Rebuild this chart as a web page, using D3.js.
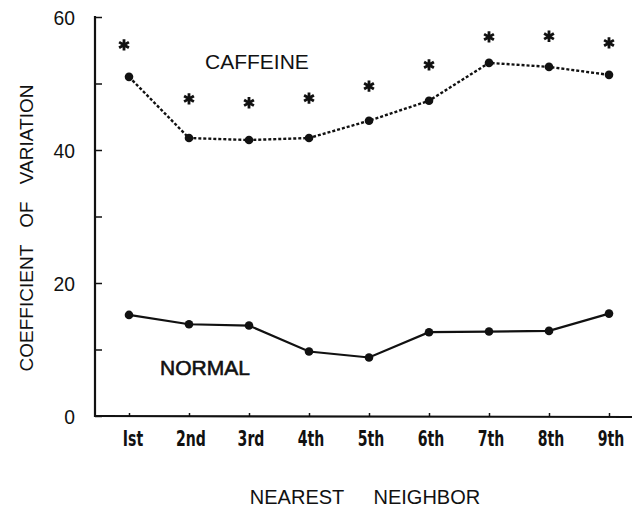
<!DOCTYPE html>
<html>
<head>
<meta charset="utf-8">
<script src="https://cdn.jsdelivr.net/npm/d3@7"></script>
<style>
  html, body { margin: 0; padding: 0; background: #fff; }
  svg { display: block; }
</style>
</head>
<body>
<svg id="chart" width="641" height="507"></svg>
<script>
const categories = ["Ist", "2nd", "3rd", "4th", "5th", "6th", "7th", "8th", "9th"];
const caffeineValues = [51.0, 41.8, 41.5, 41.8, 44.4, 47.4, 53.1, 52.5, 51.3];
const significanceMarks = [55.8, 47.7, 47.1, 47.8, 49.6, 52.8, 57.0, 57.1, 56.1];
const normalValues = [15.2, 13.8, 13.6, 9.7, 8.8, 12.6, 12.7, 12.8, 15.4];
const yTickValues = [0, 10, 20, 30, 40, 50, 60];
const yTickLabels = ["0", "", "20", "", "40", "", "60"];

const svg = d3.select("#chart");
const ink = "#111";

const x = d3.scalePoint().domain(categories).range([129, 609]);
const y = d3.scaleLinear().domain([0, 60]).range([416, 17]);

const axisLeftX = 95, axisRightX = 632;

// Y axis
const yAxis = d3.axisRight(y).tickValues(yTickValues).tickSize(7).tickFormat("");
const gy = svg.append("g").attr("transform", `translate(${axisLeftX},0)`).call(yAxis);
gy.select(".domain").remove();
gy.selectAll(".tick line").attr("stroke", ink).attr("stroke-width", 1.5);
svg.append("line").attr("x1", axisLeftX).attr("x2", axisLeftX)
  .attr("y1", y(60) - 1).attr("y2", y(0) + 1)
  .attr("stroke", ink).attr("stroke-width", 2.2);

svg.append("g").selectAll("text").data(yTickValues).join("text")
  .attr("transform", d => `translate(75,${y(d)}) scale(0.92,1)`)
  .attr("dy", "0.36em")
  .attr("text-anchor", "end")
  .attr("font-family", "'Liberation Sans',Arial,sans-serif")
  .attr("font-size", 21).attr("fill", ink)
  .text((d, i) => yTickLabels[i]);

// X axis
svg.append("line").attr("x1", axisLeftX).attr("x2", axisRightX)
  .attr("y1", y(0)).attr("y2", y(0) + 1)
  .attr("stroke", ink).attr("stroke-width", 2.2);
const xAxis = d3.axisTop(x).tickSize(3).tickFormat("");
const gx = svg.append("g").attr("transform", `translate(0,${y(0)})`).call(xAxis);
gx.select(".domain").remove();
gx.selectAll(".tick line").attr("stroke", ink).attr("stroke-width", 1.5);

svg.append("g").selectAll("text").data(categories).join("text")
  .attr("transform", (d, i) => `translate(${x(d) + (i === 0 ? 4 : 2)},446) scale(0.64,1)`)
  .attr("text-anchor", "middle")
  .attr("font-family", "'DejaVu Sans',sans-serif")
  .attr("font-weight", "bold")
  .attr("font-size", 22).attr("fill", ink)
  .text(d => d);

// Axis titles
svg.append("text")
  .attr("transform", "translate(33,228) rotate(-90)")
  .attr("text-anchor", "middle")
  .attr("font-family", "'Liberation Sans',Arial,sans-serif")
  .attr("font-size", 19).attr("fill", ink)
  .attr("word-spacing", 12)
  .text("COEFFICIENT OF VARIATION");

svg.append("text")
  .attr("x", 365).attr("y", 504)
  .attr("text-anchor", "middle")
  .attr("font-family", "'Liberation Sans',Arial,sans-serif")
  .attr("font-size", 20).attr("fill", ink)
  .attr("word-spacing", 24)
  .text("NEAREST NEIGHBOR");

// Caffeine series (dotted)
const line = d3.line().x((d, i) => x(categories[i])).y(d => y(d));
svg.append("path").datum(caffeineValues).attr("d", line)
  .attr("fill", "none").attr("stroke", ink).attr("stroke-width", 2.4)
  .attr("stroke-dasharray", "3,2");
svg.append("g").selectAll("circle").data(caffeineValues).join("circle")
  .attr("cx", (d, i) => x(categories[i])).attr("cy", d => y(d)).attr("r", 4.3)
  .attr("fill", ink);

// Normal series (solid)
svg.append("path").datum(normalValues).attr("d", line)
  .attr("fill", "none").attr("stroke", ink).attr("stroke-width", 2.2);
svg.append("g").selectAll("circle").data(normalValues).join("circle")
  .attr("cx", (d, i) => x(categories[i])).attr("cy", d => y(d)).attr("r", 4.3)
  .attr("fill", ink);

// Asterisks
const star = d3.symbol().type(d3.symbolAsterisk).size(90);
svg.append("g").selectAll("path").data(significanceMarks).join("path")
  .attr("transform", (d, i) => `translate(${x(categories[i]) - (i === 0 ? 5 : 0)},${y(d)})`)
  .attr("d", star)
  .attr("fill", "none").attr("stroke", ink).attr("stroke-width", 2.8);

// Series labels
svg.append("text").attr("x", 205).attr("y", 69)
  .attr("font-family", "'Liberation Sans',Arial,sans-serif")
  .attr("font-size", 21).attr("fill", ink).text("CAFFEINE");
svg.append("text").attr("x", 160).attr("y", 375)
  .attr("font-family", "'Liberation Sans',Arial,sans-serif")
  .attr("font-size", 21).attr("fill", ink)
  .attr("stroke", ink).attr("stroke-width", 0.6).text("NORMAL");
</script>
</body>
</html>
